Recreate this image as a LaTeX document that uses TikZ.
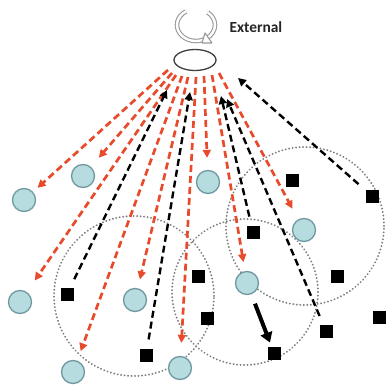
\documentclass[tikz,border=0pt]{standalone}
\usepackage{fontspec}
\setmainfont{Carlito}
\usetikzlibrary{arrows.meta,shapes.geometric}
\definecolor{redarr}{RGB}{232,74,44}
\definecolor{cfill}{RGB}{182,220,224}
\definecolor{cdraw}{RGB}{112,152,160}
\definecolor{dotc}{RGB}{125,125,125}
\begin{document}
\begin{tikzpicture}[x=1bp,y=-1bp,
  cnode/.style={circle,draw=cdraw,fill=cfill,line width=1.3bp,minimum size=23bp,inner sep=0pt},
  snode/.style={rectangle,fill=black,minimum size=13bp,inner sep=0pt},
  redar/.style={draw=redarr,line width=2.7bp,dash pattern=on 7bp off 4bp,-{Triangle[length=8bp,width=8bp]}},
  blkar/.style={draw=black,line width=2.4bp,dash pattern=on 7bp off 4bp,-{Triangle[length=8bp,width=8bp]},shorten <=9bp},
  zone/.style={draw=dotc,line width=2bp,dash pattern=on 0.1bp off 3.4bp,line cap=round}]
\useasboundingbox (0,0) rectangle (392,389);

% dotted zones
\draw[zone] (134,296) circle[radius=80bp];
\draw[zone] (245,292) circle[radius=73bp];
\draw[zone] (305,226) circle[radius=79bp];

% external node
\node[draw=black!75,ellipse,line width=1.3bp,minimum width=42bp,minimum height=21bp,inner sep=0pt] (ext) at (195,60) {};
\draw[draw=gray!80,double=white,double distance=2.4bp,line width=1.1bp] (196,25) ++(122:19bp and 16bp) arc[start angle=122,end angle=412,x radius=19bp,y radius=16bp];
\draw[draw=gray!80,line width=1.1bp,fill=white,line join=round] (212,43) -- (202,43) -- (205,33) -- cycle;
\node[font=\bfseries\fontsize{15.5}{17}\selectfont,text=black!85,anchor=west] (lbl) at (226,27) {External};

% circles
\node[cnode] (c1) at (24,200) {};
\node[cnode] (c2) at (83,176) {};
\node[cnode] (c3) at (208,182) {};
\node[cnode] (c4) at (304,230) {};
\node[cnode] (c5) at (20,302) {};
\node[cnode] (c6) at (135,300) {};
\node[cnode] (c7) at (247,283) {};
\node[cnode] (c8) at (73,372) {};
\node[cnode] (c9) at (180,368) {};

% squares
\node[snode] (s1) at (292,180) {};
\node[snode] (s2) at (372,196) {};
\node[snode] (s3) at (253,232) {};
\node[snode] (s4) at (198,276) {};
\node[snode] (s5) at (337,276) {};
\node[snode] (s6) at (207,318) {};
\node[snode] (s7) at (379,317) {};
\node[snode] (s8) at (326,331) {};
\node[snode] (s9) at (274,353) {};
\node[snode] (s10) at (67,294) {};
\node[snode] (s11) at (146,355) {};

% red arrow tails
\coordinate (t1) at (168,70);
\coordinate (t2) at (172,73);
\coordinate (t3) at (176,75);
\coordinate (t4) at (182,76);
\coordinate (t5) at (188,77);
\coordinate (t6) at (196,77);
\coordinate (t7) at (204,76);
\coordinate (t8) at (212,75);
\coordinate (t9) at (219,73);

\draw[redar,shorten >=6bp] (t1) -- (c1);
\draw[redar,shorten >=12bp] (t2) -- (c2);
\draw[redar,shorten >=14bp] (t3) -- (c5);
\draw[redar,shorten >=10bp] (t4) -- (c8);
\draw[redar,shorten >=9bp] (t5) -- (c6);
\draw[redar,shorten >=13bp] (t6) -- (c9);
\draw[redar,shorten >=12bp] (t7) -- (c3);
\draw[redar,shorten >=9bp] (t8) -- (c7);
\draw[redar,shorten >=12bp] (t9) -- (c4);

% black arrow heads
\coordinate (h1) at (167,90);
\coordinate (h2) at (190,92);
\coordinate (h3) at (221,96);
\coordinate (h4) at (227,99);
\coordinate (h5) at (238,78);

\draw[blkar] (s10) -- (h1);
\draw[blkar] (s11) -- (h2);
\draw[blkar] (s3) -- (h3);
\draw[blkar] (s8) -- (h4);
\draw[blkar] (s2) -- (h5);

% thick arrow
\draw[line width=4bp,-{Triangle[length=10bp,width=12bp]},shorten <=10bp,shorten >=4bp] (c7) -- (s9);
\end{tikzpicture}
\end{document}
